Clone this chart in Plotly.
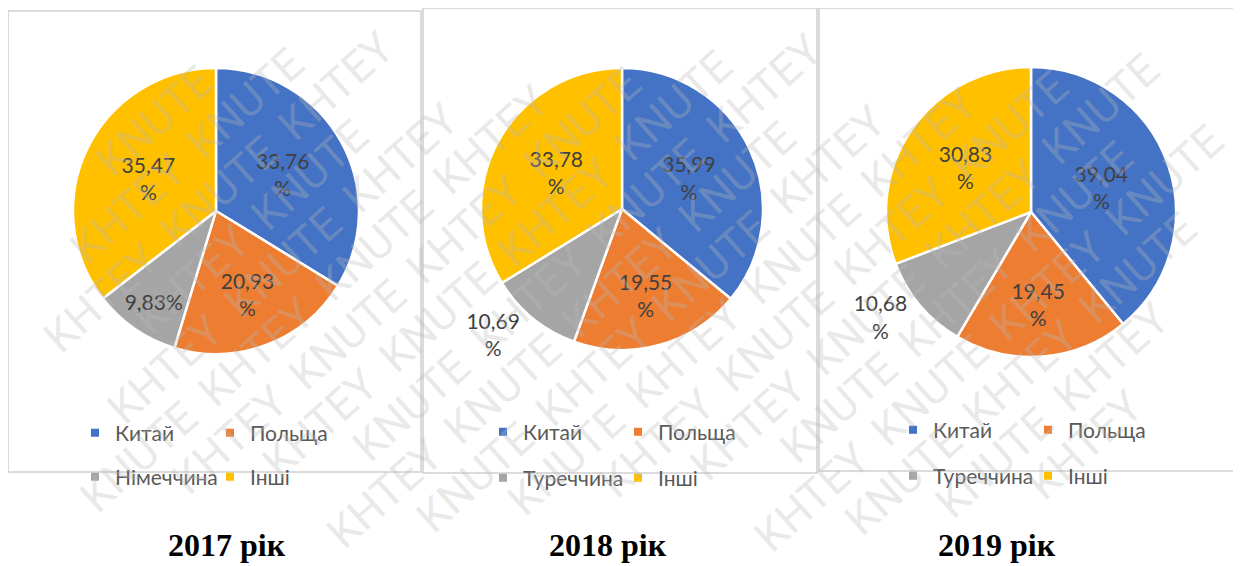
import math
import plotly.graph_objects as go

# the page puts the figure 8px in from the top-left corner
OFF = 8
W, H = 1241 - OFF, 566 - OFF

years = ["2017 рік", "2018 рік", "2019 рік"]
labels_2017 = ["Китай", "Польща", "Німеччина", "Інші"]
labels_2018 = ["Китай", "Польща", "Туреччина", "Інші"]
labels_2019 = ["Китай", "Польща", "Туреччина", "Інші"]
shares_2017 = [33.76, 20.93, 9.83, 35.47]
shares_2018 = [35.99, 19.55, 10.69, 33.78]
shares_2019 = [39.04, 19.45, 10.68, 30.83]

colors = ["#4472C4", "#ED7D31", "#A5A5A5", "#FFC000"]
watermark_words = ["KHTEY", "KNUTE"]


def px_x(x):
    return (x - OFF) / W


def px_y(y):
    return 1 - (y - OFF) / H


def slice_text(vals, oneline=()):
    out = []
    for i, v in enumerate(vals):
        s = f"{v:.2f}".replace(".", ",")
        out.append(s + "%" if i in oneline else s + "<br>%")
    return out


# pixel layout for each panel (screen coordinates)
panels = [
    dict(labels=labels_2017, vals=shares_2017, cx=216, cy=211, r=143,
         pos=["inside"] * 4, oneline=(2,), leg=(75, 433, 477), title_x=227,
         box=(8, 11, 421, 472)),
    dict(labels=labels_2018, vals=shares_2018, cx=622, cy=209, r=141,
         pos=["inside", "inside", "outside", "inside"], oneline=(), leg=(483, 432, 478),
         title_x=608, box=(423, 8, 817, 473)),
    dict(labels=labels_2019, vals=shares_2019, cx=1031, cy=212, r=145,
         pos=["inside", "inside", "outside", "inside"], oneline=(), leg=(893, 430, 476),
         title_x=997, box=(819, 8, 1240, 471)),
]

fig = go.Figure()
legend_cfg = {}
n = 0
for p in panels:
    fig.add_trace(go.Pie(
        labels=p["labels"],
        values=p["vals"],
        text=slice_text(p["vals"], p["oneline"]),
        texttemplate="%{text}",
        textposition=p["pos"],
        insidetextorientation="horizontal",
        textfont=dict(family="Lato", size=21, color="#404040"),
        sort=False,
        direction="clockwise",
        rotation=0,
        marker=dict(colors=colors, line=dict(color="white", width=2.5)),
        domain=dict(x=[px_x(p["cx"] - p["r"]), px_x(p["cx"] + p["r"])],
                    y=[px_y(p["cy"] + p["r"]), px_y(p["cy"] - p["r"])]),
        showlegend=False,
        hoverinfo="label+percent",
    ))
    # two-row legend: each row is its own legend
    lx, ly1, ly2 = p["leg"]
    for row, idx in enumerate([(0, 1), (2, 3)]):
        n += 1
        name = "legend" if n == 1 else f"legend{n}"
        for i in idx:
            fig.add_trace(go.Scatter(
                x=[None], y=[None], mode="markers", name=p["labels"][i],
                marker=dict(symbol="square", size=8, color=colors[i]),
                legend=name, showlegend=True, hoverinfo="skip",
            ))
        legend_cfg[name] = dict(
            orientation="h", x=px_x(lx), xanchor="left",
            y=px_y(ly1 if row == 0 else ly2), yanchor="middle",
            entrywidth=90, bgcolor="rgba(0,0,0,0)",
            font=dict(family="Lato", size=21, color="#595959"),
        )

shapes = []
annotations = []

# watermark: words along diagonal lines, only where they fit fully on the page
ang = 42
ux, uy = math.cos(math.radians(ang)), -math.sin(math.radians(ang))
nx, ny = -uy, ux
half_w, half_h = 68, 65
for k in range(-20, 21):
    for j in range(-14, 15):
        t = j * 158 + (k % 2) * 79
        cx = 620 + k * 48 * nx + t * ux
        cy = 283 + k * 48 * ny + t * uy
        if not (OFF + half_w < cx < 1241 - half_w and OFF + half_h < cy < 566 - half_h):
            continue
        annotations.append(dict(
            text=watermark_words[(j + k) % 2], x=px_x(cx), y=px_y(cy),
            xref="paper", yref="paper",
            showarrow=False, textangle=-ang, xanchor="center", yanchor="middle",
            font=dict(family="Roboto", size=44, color="rgba(185,185,185,0.32)"),
        ))

for p, yr in zip(panels, years):
    x0, y0, x1, y1 = p["box"]
    shapes.append(dict(type="rect", xref="paper", yref="paper",
                       x0=px_x(x0), x1=px_x(x1), y0=px_y(y1), y1=px_y(y0),
                       line=dict(color="#d0d0d0", width=1.5), layer="below"))
    annotations.append(dict(
        text=f"<b>{yr}</b>", x=px_x(p["title_x"]), y=px_y(545),
        xref="paper", yref="paper", showarrow=False,
        xanchor="center", yanchor="middle",
        font=dict(family="Liberation Serif", size=32, color="black"),
    ))

fig.update_layout(
    width=W, height=H,
    margin=dict(l=0, r=0, t=0, b=0),
    paper_bgcolor="white", plot_bgcolor="white",
    xaxis=dict(visible=False), yaxis=dict(visible=False),
    shapes=shapes, annotations=annotations,
    **legend_cfg,
)

fig.write_html("out.html")
